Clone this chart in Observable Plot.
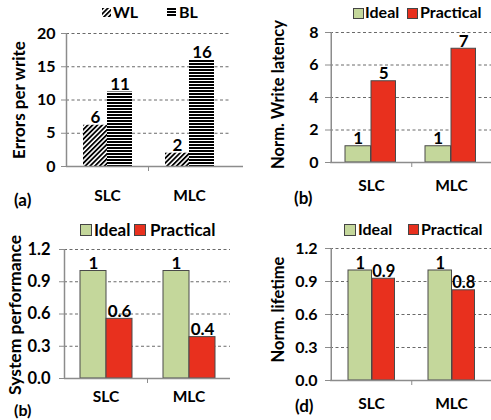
<!DOCTYPE html>
<html><head><meta charset="utf-8">
<script src="https://cdn.jsdelivr.net/npm/d3@7"></script>
<script src="https://cdn.jsdelivr.net/npm/@observablehq/plot@0.6"></script>
<style>
body{margin:0;background:#fff;font-family:Lato,sans-serif;}
#wrap{position:relative;width:491px;height:420px;overflow:hidden;background:#fff}
.panel{position:absolute}
.lab{position:absolute;font-size:15px;font-weight:bold;color:#000;line-height:1;white-space:nowrap;font-family:Lato,sans-serif}
.sw{position:absolute;width:11px;height:11px;box-sizing:border-box;border:1px solid #444}
</style></head><body>
<svg width="0" height="0" style="position:absolute">
<defs>
<pattern id="wl" patternUnits="userSpaceOnUse" width="3.4" height="3.4" patternTransform="rotate(45)"><rect width="3.4" height="3.4" fill="#fff"/><rect width="1.8" height="3.4" fill="#000"/></pattern>
<pattern id="bl" patternUnits="userSpaceOnUse" width="6" height="3"><rect width="6" height="3" fill="#fff"/><rect width="6" height="2" fill="#000"/></pattern>
</defs></svg>
<div id="wrap"></div>
<script>
const categories = ["SLC", "MLC"];
// (a) Errors per write
const errorsWL = [6.2, 2.0];
const errorsBL = [11.2, 16.0];
const errorsWLLabels = ["6", "2"];
const errorsBLLabels = ["11", "16"];
const ticksErrors = [0, 5, 10, 15, 20];
// (b) Norm. Write latency
const latencyIdeal = [1, 1];
const latencyPractical = [5, 7];
const latencyIdealLabels = ["1", "1"];
const latencyPracticalLabels = ["5", "7"];
const ticksLatency = [0, 2, 4, 6, 8];
// (b) System performance
const perfIdeal = [1.0, 1.0];
const perfPractical = [0.555, 0.385];
const perfIdealLabels = ["1", "1"];
const perfPracticalLabels = ["0.6", "0.4"];
// (d) Norm. lifetime
const lifeIdeal = [1.0, 1.0];
const lifePractical = [0.925, 0.82];
const lifeIdealLabels = ["1", "1"];
const lifePracticalLabels = ["0.9", "0.8"];
const ticksNorm = [0, 0.3, 0.6, 0.9, 1.2];

const GREEN = "#c4d79b", RED = "#e8301e", BORDER = "#4a4a4a", GRAY = "#8c8c8c";

function makePanel(p) {
  const bw = (p.w - p.ml - p.mr) / categories.length;
  const rows = (vals, labs) => categories.map((c, i) => ({cat: c, v: vals[i], lab: labs[i]}));
  const A = rows(p.valsA, p.labsA), B = rows(p.valsB, p.labsB);
  const [a0, a1] = p.barA, [b0, b1] = p.barB;
  const ymax = p.ticks[p.ticks.length - 1];
  const plot = Plot.plot({
    width: p.w, height: p.h,
    marginTop: p.mt, marginBottom: p.mb, marginLeft: p.ml, marginRight: p.mr,
    x: {domain: categories, padding: 0, axis: null},
    y: {domain: [0, ymax], axis: null},
    style: {fontFamily: "Lato, sans-serif", fontSize: "15px", fontWeight: "bold", color: "#000", background: "transparent", overflow: "visible"},
    marks: [
      Plot.ruleY(p.ticks.slice(1), {stroke: "#6a6a6a", strokeDasharray: "3,2.5", insetRight: p.gridInsetRight || 0}),
      Plot.barY(A, {x: "cat", y: "v", fill: p.fillA, stroke: p.strokeA, strokeWidth: 1, insetLeft: a0, insetRight: bw - a1}),
      Plot.barY(B, {x: "cat", y: "v", fill: p.fillB, stroke: p.strokeB, strokeWidth: 1, insetLeft: b0, insetRight: bw - b1}),
      Plot.text(A, {x: "cat", y: "v", text: "lab", dx: (a0 + a1) / 2 - bw / 2, dy: -2, lineAnchor: "bottom", fontSize: p.labelSize, fontWeight: "bold"}),
      Plot.text(B, {x: "cat", y: "v", text: "lab", dx: (b0 + b1) / 2 - bw / 2, dy: -2, lineAnchor: "bottom", fontSize: p.labelSize, fontWeight: "bold"}),
      Plot.ruleY([0], {stroke: GRAY, strokeWidth: 1.5, insetRight: p.baseInsetRight || 0}),
      Plot.ruleX(categories.slice(0, 1), {x: d => d, dx: -bw / 2, y1: 0, y2: ymax, stroke: GRAY, strokeWidth: 1.5}),
      Plot.axisY({ticks: p.ticks, tickSize: 5, text: null, stroke: GRAY, label: null}),
      Plot.axisY({ticks: p.ticks, tickSize: 0, tickPadding: p.tp, fontSize: p.tickSize, fontWeight: "bold", label: null}),
      Plot.axisX({ticks: categories.slice(0, 1), tickSize: 5, text: null, dx: bw / 2, stroke: GRAY, label: null}),
      Plot.axisX({ticks: categories, tickSize: 0, tickPadding: p.xpad, fontSize: 15.5, fontWeight: "bold", label: null}),
      Plot.text([p.title], {frameAnchor: "left", textAnchor: "middle", lineAnchor: "middle", rotate: -90, dx: p.titleDx, dy: p.titleDy || 0, text: d => d, fontSize: p.titleSize, fontWeight: "bold"})
    ]
  });
  const div = document.createElement("div");
  div.className = "panel";
  div.style.left = p.left + "px";
  div.style.top = p.top + "px";
  div.appendChild(plot);
  return div;
}

const wrap = document.getElementById("wrap");
wrap.appendChild(makePanel({
  left: 0, top: 0, w: 245, h: 210, ml: 66, mr: 15, mt: 33, mb: 44,
  ticks: ticksErrors, valsA: errorsWL, valsB: errorsBL, labsA: errorsWLLabels, labsB: errorsBLLabels,
  fillA: "url(#wl)", fillB: "url(#bl)", strokeA: "none", strokeB: "none",
  barA: [17, 41], barB: [41, 66], tp: 11, xpad: 23, title: "Errors per write", titleDx: -47,
  titleSize: 17, tickSize: 16, labelSize: 17, baseInsetRight: -13
}));
wrap.appendChild(makePanel({
  left: 245, top: 0, w: 246, h: 210, ml: 85, mr: 0, mt: 32, mb: 48,
  ticks: ticksLatency, valsA: latencyIdeal, valsB: latencyPractical, labsA: latencyIdealLabels, labsB: latencyPracticalLabels,
  fillA: GREEN, fillB: RED, strokeA: BORDER, strokeB: BORDER,
  barA: [14, 40], barB: [40, 65], tp: 12, xpad: 17, title: "Norm. Write latency", titleDx: -52, titleDy: -3,
  titleSize: 16.5, tickSize: 16, labelSize: 17
}));
wrap.appendChild(makePanel({
  left: 0, top: 210, w: 245, h: 210, ml: 64, mr: 15, mt: 39, mb: 42,
  ticks: ticksNorm, valsA: perfIdeal, valsB: perfPractical, labsA: perfIdealLabels, labsB: perfPracticalLabels,
  fillA: GREEN, fillB: RED, strokeA: BORDER, strokeB: BORDER,
  barA: [16, 42], barB: [42, 68], tp: 14, xpad: 12, title: "System performance", titleDx: -49, titleDy: 1,
  titleSize: 17.5, tickSize: 16.5, labelSize: 17
}));
wrap.appendChild(makePanel({
  left: 245, top: 210, w: 246, h: 210, ml: 85, mr: 0, mt: 38, mb: 40,
  ticks: ticksNorm, valsA: lifeIdeal, valsB: lifePractical, labsA: lifeIdealLabels, labsB: lifePracticalLabels,
  fillA: GREEN, fillB: RED, strokeA: BORDER, strokeB: BORDER,
  barA: [17, 41], barB: [41, 64], tp: 13, xpad: 17, title: "Norm. lifetime", titleDx: -52, titleDy: -5,
  titleSize: 16.5, tickSize: 16, labelSize: 16.5
}));

function lab(text, x, y, size) {
  const d = document.createElement("div");
  d.className = "lab";
  d.textContent = text;
  d.style.left = x + "px"; d.style.top = y + "px";
  if (size) d.style.fontSize = size + "px";
  wrap.appendChild(d);
}
function sw(x, y, color, size) {
  const d = document.createElement("div");
  d.className = "sw";
  d.style.left = x + "px"; d.style.top = y + "px";
  d.style.background = color;
  if (size) { d.style.width = size + "px"; d.style.height = size + "px"; }
  wrap.appendChild(d);
}
function hatch(x, y, id) {
  const ns = "http://www.w3.org/2000/svg";
  const s = document.createElementNS(ns, "svg");
  s.setAttribute("width", 9); s.setAttribute("height", 9);
  s.style.position = "absolute"; s.style.left = x + "px"; s.style.top = y + "px";
  const r = document.createElementNS(ns, "rect");
  r.setAttribute("width", 9); r.setAttribute("height", 9); r.setAttribute("fill", `url(#${id})`);
  s.appendChild(r);
  wrap.appendChild(s);
}
// legends
hatch(102, 8, "wl"); lab("WL", 113, 4, 16);
hatch(167, 8, "bl"); lab("BL", 179, 4, 16);
sw(353, 8, GREEN); lab("Ideal", 365, 4, 16); sw(407, 8, RED); lab("Practical", 420, 4, 16);
sw(80, 224, GREEN, 12); lab("Ideal", 94, 221, 17); sw(134, 224, RED, 12); lab("Practical", 150, 221, 17);
sw(344, 224, GREEN, 12); lab("Ideal", 358, 221, 16); sw(408, 224, RED, 11); lab("Practical", 421, 221, 16);
// panel tags
lab("(a)", 14, 191, 17); lab("(b)", 294, 189, 17); lab("(b)", 14, 402, 16); lab("(d)", 295, 397, 17);
</script>
</body></html>
